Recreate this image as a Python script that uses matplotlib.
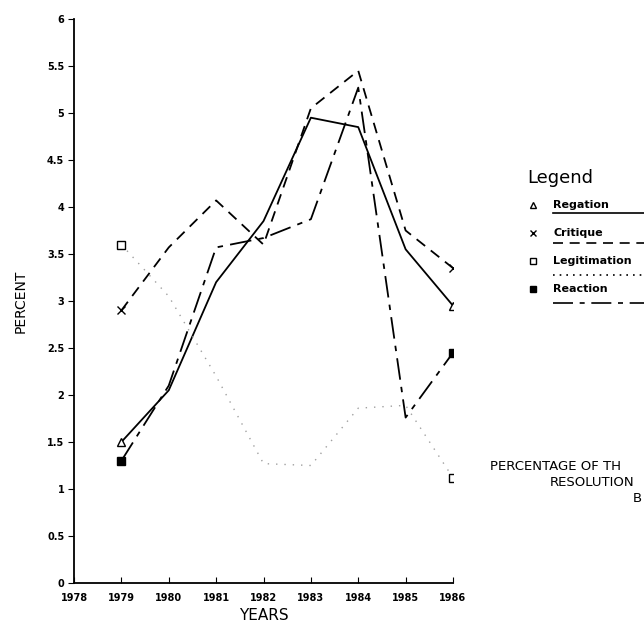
import matplotlib
matplotlib.use("Agg")
import matplotlib.pyplot as plt
from matplotlib.lines import Line2D
import numpy as np

years = [1979, 1980, 1981, 1982, 1983, 1984, 1985, 1986]
regation = [1.5, 2.05, 3.2, 3.85, 4.95, 4.85, 3.55, 2.95]
critique = [2.9, 3.57, 4.07, 3.6, 5.05, 5.45, 3.75, 3.35]
legitimation = [3.6, 3.05, 2.2, 1.27, 1.25, 1.86, 1.89, 1.12]
reaction = [1.3, 2.1, 3.57, 3.67, 3.87, 5.27, 1.76, 2.45]

xticks = [1978, 1979, 1980, 1981, 1982, 1983, 1984, 1985, 1986]
yticks = [0, 0.5, 1, 1.5, 2, 2.5, 3, 3.5, 4, 4.5, 5, 5.5, 6]
ylabels = ["0", "0.5", "1", "1.5", "2", "2.5", "3", "3.5", "4", "4.5", "5", "5.5", "6"]

legend_names = ["Regation", "Critique", "Legitimation", "Reaction"]
title_lines = ["PERCENTAGE OF TH", "RESOLUTION", "B"]

W, H = 644, 635
fig = plt.figure(figsize=(W / 100, H / 100), dpi=100)

def fx(px):
    return px / W

def fy(py):
    return 1 - py / H

ax = fig.add_axes([fx(74), fy(583), fx(453) - fx(74), fy(19) - fy(583)])

ends = [0, len(years) - 1]
ax.plot(years, regation, color="black", lw=1.3, marker="^", mfc="white",
        ms=6, markevery=ends)
ax.plot(years, critique, color="black", lw=1.3, linestyle=(0, (6, 4)),
        marker="x", ms=6, markevery=ends)
ax.plot(years, legitimation, color="#a0a0a0", lw=1.0, linestyle=(0, (1, 5)))
ax.plot([years[0], years[-1]], [legitimation[0], legitimation[-1]],
        linestyle="none", marker="s", mfc="white", mec="black", ms=6)
ax.plot(years, reaction, color="black", lw=1.3, linestyle=(0, (12, 4, 3, 4)),
        marker="s", ms=6, markevery=ends)

ax.set_xlim(1978, 1986)
ax.set_ylim(0, 6)
ax.set_xticks(xticks)
ax.set_xticklabels([str(y) for y in xticks], fontsize=7, fontweight="bold")
ax.set_yticks(yticks)
ax.set_yticklabels(ylabels, fontsize=7, fontweight="bold")
ax.tick_params(axis="x", direction="in", length=4, pad=7)
ax.tick_params(axis="y", direction="out", length=4, pad=3)
for s in ["top", "right"]:
    ax.spines[s].set_visible(False)
for s in ["left", "bottom"]:
    ax.spines[s].set_linewidth(1.3)

ax.set_xlabel("YEARS", fontsize=11, labelpad=4)
ax.set_ylabel("PERCENT", fontsize=10, labelpad=14)

# hand-drawn style legend
fig.text(fx(527), fy(178), "Legend", fontsize=13, va="center", ha="left")
row_y = [205, 233, 261, 289]
line_y = [213, 243, 275, 303]
styles = ["-", (0, (6, 4)), (0, (1, 3)), (0, (12, 4, 3, 4))]
markers = [("^", "white"), ("x", "black"), ("s", "white"), ("s", "black")]
for name, ry, ly, st, (mk, fc) in zip(legend_names, row_y, line_y, styles, markers):
    fig.add_artist(Line2D([fx(533)], [fy(ry)], marker=mk, mfc=fc, mec="black",
                          ms=5, linestyle="none", transform=fig.transFigure))
    fig.text(fx(553), fy(ry), name, fontsize=8, fontweight="bold",
             va="center", ha="left")
    fig.add_artist(Line2D([fx(553), fx(644)], [fy(ly), fy(ly)], color="black",
                          lw=1.2, linestyle=st, transform=fig.transFigure))

title_pos = [(490, 467), (550, 482), (633, 498)]
for txt, (px, py) in zip(title_lines, title_pos):
    fig.text(fx(px), fy(py), txt, fontsize=9.5, va="center", ha="left")

plt.savefig("out.png", dpi=100)
